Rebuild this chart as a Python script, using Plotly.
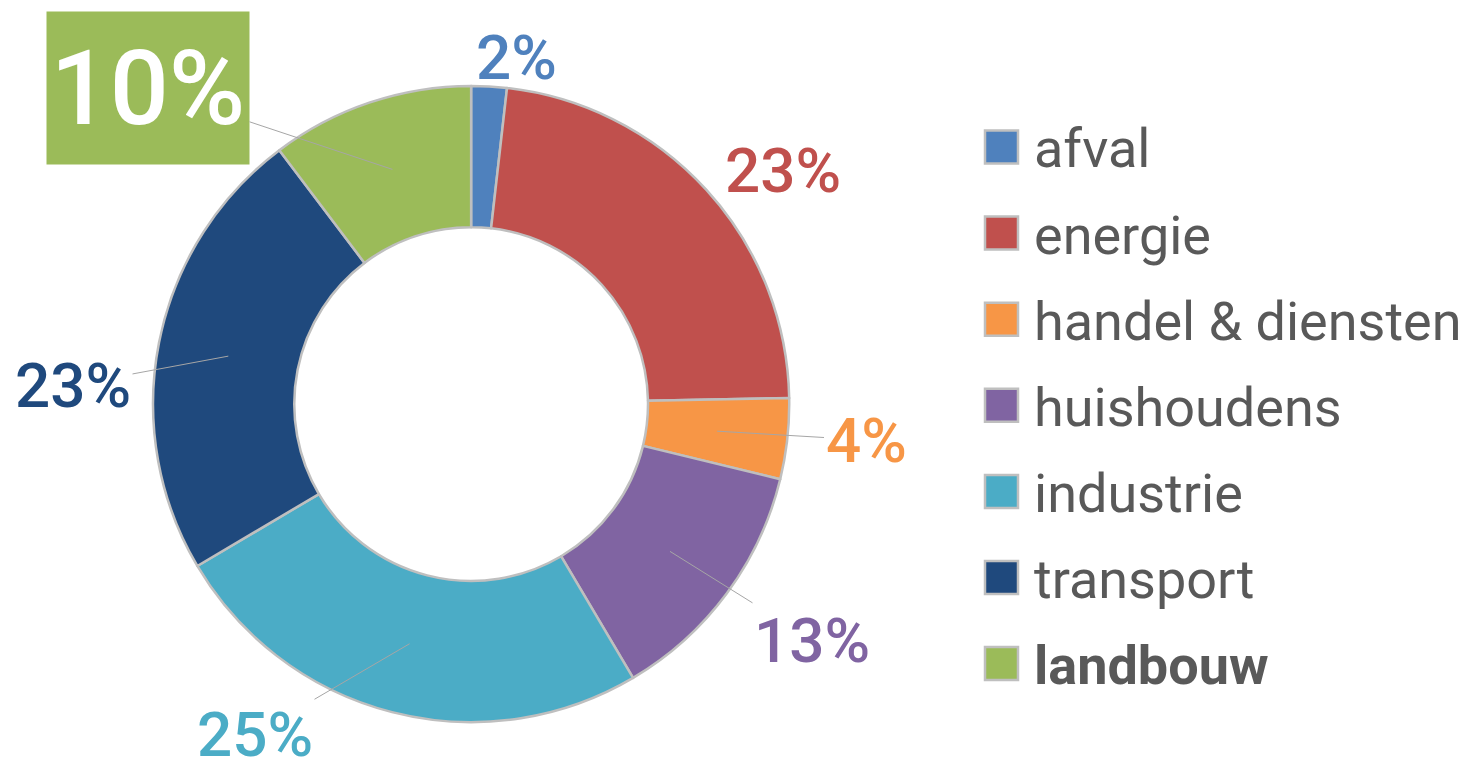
import math
import plotly.graph_objects as go

W, H = 1470, 774

# data
sectors = ["afval", "energie", "handel & diensten", "huishoudens",
           "industrie", "transport", "landbouw"]
shares = [1.8, 22.9, 4.1, 12.7, 25.0, 23.2, 10.3]
colors = ["#4f81bd", "#c0504d", "#f79646", "#8064a2",
          "#4bacc6", "#1f497d", "#9bbb59"]

# where the percentage labels sit (pixel centres)
label_pos = [(516, 57), (783, 170), (866, 440), (812, 640),
             (255, 734), (73, 385), (148, 88)]
leader = [False, False, True, True, True, True, True]

FONT = "Roboto"
dom_x = [0.104, 0.537]
dom_y = [0.067, 0.889]

fig = go.Figure(go.Pie(
    labels=sectors, values=shares, sort=False, direction="clockwise",
    rotation=0, hole=0.556, textinfo="none", hoverinfo="label+percent",
    marker=dict(colors=colors, line=dict(color="#bfbfbf", width=2.5)),
    domain=dict(x=dom_x, y=dom_y), showlegend=False,
))

# pie geometry in pixels
cx = (dom_x[0] + dom_x[1]) / 2 * W
cy = H - (dom_y[0] + dom_y[1]) / 2 * H
R = min((dom_x[1] - dom_x[0]) * W, (dom_y[1] - dom_y[0]) * H) / 2
r_mid = R * (1 + 0.556) / 2

total = sum(shares)
cum = 0
annotations = []
for i, v in enumerate(shares):
    mid = (cum + v / 2) / total * 2 * math.pi
    cum += v
    px = cx + r_mid * math.sin(mid)
    py = cy - r_mid * math.cos(mid)
    lx, ly = label_pos[i]
    pct = f"{round(v / total * 100)}%"
    is_box = sectors[i] == "landbouw"
    ann = dict(
        text=pct, xref="paper", yref="paper",
        font=dict(family=FONT, size=104 if is_box else 62, weight=500,
                  color="white" if is_box else colors[i]),
    )
    if leader[i]:
        ann.update(x=px / W, y=1 - py / H, showarrow=True, arrowhead=0,
                   arrowwidth=1, arrowcolor="#a6a6a6",
                   ax=lx - px, ay=ly - py)
    else:
        ann.update(x=lx / W, y=1 - ly / H, showarrow=False,
                   xanchor="center", yanchor="middle")
    if is_box:
        ann.update(bgcolor=colors[i], width=200, height=150)
    annotations.append(ann)

# legend drawn by hand so the swatches can be large
shapes = []
for i, name in enumerate(sectors):
    yc = 147 + 86.1 * i
    shapes.append(dict(
        type="rect", xref="paper", yref="paper",
        x0=985 / W, x1=1018 / W, y0=1 - (yc + 16.5) / H, y1=1 - (yc - 16.5) / H,
        fillcolor=colors[i], line=dict(color="#bfbfbf", width=2.5),
    ))
    annotations.append(dict(
        text=f"<b>{name}</b>" if name == "landbouw" else name,
        xref="paper", yref="paper", x=1032 / W, y=1 - (yc + 2) / H,
        xanchor="left", yanchor="middle", showarrow=False,
        font=dict(family=FONT, size=54, color="#595959"),
    ))

fig.update_layout(
    width=W, height=H, margin=dict(l=0, r=0, t=0, b=0),
    paper_bgcolor="white", plot_bgcolor="white",
    annotations=annotations, shapes=shapes,
)

fig.write_html("out.html", config={"displayModeBar": False},
               post_script="document.body.style.margin='0';")
